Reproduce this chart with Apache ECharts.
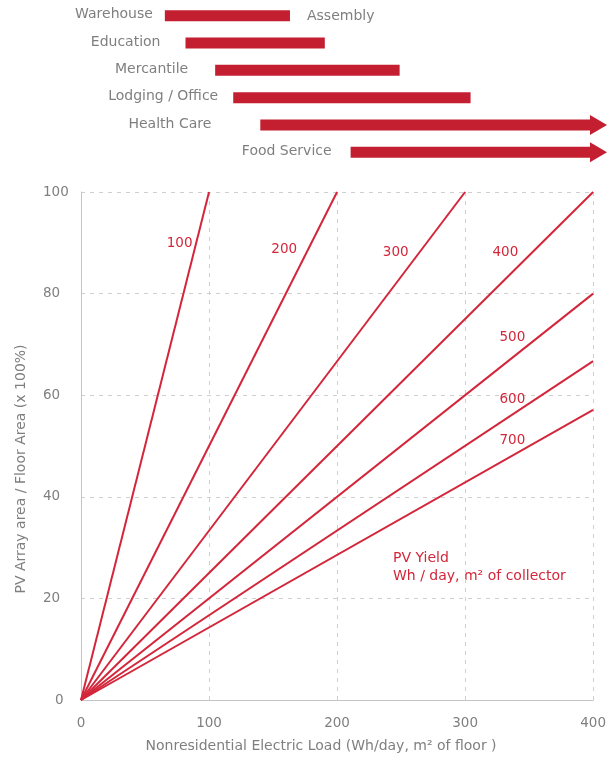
<!DOCTYPE html>
<html>
<head>
<meta charset="utf-8">
<script src="https://cdn.jsdelivr.net/npm/echarts@6/dist/echarts.min.js"></script>
<style>
  html, body { margin: 0; padding: 0; background: #fff; }
  #chart { width: 609px; height: 760px; }
</style>
</head>
<body>
<div id="chart"></div>
<script>
// Building types and their typical electric load ranges (Wh/day per m² of floor)
const buildingTypes = ['Warehouse', 'Education', 'Mercantile', 'Lodging / Office', 'Health Care', 'Food Service'];
const loadStart = [65, 81, 104, 118, 139, 209];
const loadEnd = [162, 189, 247, 302, 400, 400];
const openEnded = [false, false, false, false, true, true];
const sideNotes = ['Assembly', '', '', '', '', ''];

// PV yield lines: each runs from the origin to its end point
const pvYield = [100, 200, 300, 400, 500, 600, 700];
const lineEndLoad = [100, 200, 300, 400, 400, 400, 400];
const lineEndRatio = [100, 100, 100, 100, 80, 66.7, 57.1];

// Axis ticks
const loadTicks = [0, 100, 200, 300, 400];
const ratioTicks = [0, 20, 40, 60, 80, 100];

const RED = '#c41f30';
const LINE_RED = '#d3263a';
const GRAY = '#7f7f7f';
const FONT = 'DejaVu Sans';
// horizontal gap between each building label and its bar (px)
const labelGap = [12, 25, 27, 15, 49, 19];
// where each yield label sits: fraction along its line, then a pixel nudge
const yieldLabelAt = 0.895;
const yieldLabelNudge = [[-16, -2], [-26, 4], [-29, 7], [-34, 7], [-27, 1], [-27, 3], [-27, 0]];

const chart = echarts.init(document.getElementById('chart'), null, { renderer: 'canvas' });

const rangeData = buildingTypes.map((name, i) => [loadStart[i], loadEnd[i], i, openEnded[i] ? 1 : 0]);

const lineSeries = pvYield.map((y, i) => ({
  type: 'line',
  name: String(y),
  xAxisIndex: 1,
  yAxisIndex: 1,
  data: [[0, 0], [lineEndLoad[i], lineEndRatio[i]]],
  symbol: 'none',
  lineStyle: { color: LINE_RED, width: 2 },
  silent: true,
  z: 3,
  markPoint: {
    symbol: 'circle',
    symbolSize: 0,
    silent: true,
    data: [{
      coord: [lineEndLoad[i] * yieldLabelAt, lineEndRatio[i] * yieldLabelAt],
      label: {
        show: true,
        formatter: String(y),
        position: 'inside',
        offset: yieldLabelNudge[i],
        color: LINE_RED,
        fontFamily: FONT,
        fontSize: 13.5
      }
    }]
  }
}));

chart.setOption({
  backgroundColor: '#fff',
  animation: false,
  textStyle: { fontFamily: FONT },
  grid: [
    { left: 81, right: 12, top: 2, height: 164 },
    { left: 81, right: 12, top: 192, bottom: 60 }
  ],
  xAxis: [
    { gridIndex: 0, type: 'value', min: 0, max: 400, show: false },
    {
      gridIndex: 1, type: 'value', min: loadTicks[0], max: loadTicks[loadTicks.length - 1], interval: 100,
      name: 'Nonresidential Electric Load (Wh/day, m² of floor )',
      nameLocation: 'middle', nameGap: 39,
      nameTextStyle: { color: GRAY, fontSize: 14, fontFamily: FONT, padding: [0, 32, 0, 0] },
      axisLine: { show: true, lineStyle: { color: '#c4c4c4', width: 1 } },
      axisTick: { show: false },
      axisLabel: { color: GRAY, fontSize: 13.5, fontFamily: FONT, margin: 16 },
      splitLine: { show: true, lineStyle: { color: '#cfcfcf', type: [4, 5], width: 1 } }
    }
  ],
  yAxis: [
    { gridIndex: 0, type: 'category', data: buildingTypes, inverse: true, show: false },
    {
      gridIndex: 1, type: 'value', min: ratioTicks[0], max: ratioTicks[ratioTicks.length - 1], interval: 20,
      name: 'PV Array area / Floor Area (x 100%)',
      nameLocation: 'middle', nameGap: 53, nameRotate: 90,
      nameTextStyle: { color: GRAY, fontSize: 14, fontFamily: FONT, padding: [0, 46, 0, 0] },
      axisLine: { show: true, lineStyle: { color: '#c4c4c4', width: 1 } },
      axisTick: { show: false },
      axisLabel: {
        color: GRAY, fontSize: 13.5, fontFamily: FONT, margin: 38, align: 'left',
        formatter: v => (v === 0 ? '{z|0}' : String(v)),
        rich: { z: { color: GRAY, fontSize: 13.5, fontFamily: FONT, padding: [0, 0, 0, 12] } }
      },
      splitLine: { show: true, lineStyle: { color: '#cfcfcf', type: [4, 5], width: 1 } }
    }
  ],
  graphic: [{
    type: 'text',
    left: 393,
    top: 549,
    style: {
      text: 'PV Yield\nWh / day, m² of collector',
      fill: LINE_RED,
      font: '14px "DejaVu Sans"',
      lineHeight: 18
    }
  }],
  series: [
    {
      type: 'custom',
      xAxisIndex: 0,
      yAxisIndex: 0,
      data: rangeData,
      encode: { x: [0, 1], y: 2 },
      clip: false,
      silent: true,
      renderItem: function (params, api) {
        const idx = api.value(2);
        const p0 = api.coord([api.value(0), idx]);
        const p1 = api.coord([api.value(1), idx]);
        const open = api.value(3) === 1;
        const cy = p0[1];
        const h = 11;
        const children = [];
        if (open) {
          const base = p1[0] - 7;
          children.push({
            type: 'rect',
            shape: { x: p0[0], y: cy - h / 2, width: base - p0[0] + 1, height: h },
            style: { fill: RED }
          });
          children.push({
            type: 'polygon',
            shape: { points: [[base, cy - 10], [p1[0] + 10, cy], [base, cy + 10]] },
            style: { fill: RED }
          });
        } else {
          children.push({
            type: 'rect',
            shape: { x: p0[0], y: cy - h / 2, width: p1[0] - p0[0], height: h },
            style: { fill: RED }
          });
        }
        children.push({
          type: 'text',
          style: {
            text: buildingTypes[idx],
            x: p0[0] - labelGap[idx],
            y: cy - 1,
            align: 'right',
            verticalAlign: 'middle',
            fill: GRAY,
            font: '14px "DejaVu Sans"'
          }
        });
        if (sideNotes[idx]) {
          children.push({
            type: 'text',
            style: {
              text: sideNotes[idx],
              x: p1[0] + 17,
              y: cy + 1,
              align: 'left',
              verticalAlign: 'middle',
              fill: GRAY,
              font: '14px "DejaVu Sans"'
            }
          });
        }
        return { type: 'group', children: children };
      }
    }
  ].concat(lineSeries)
});
</script>
</body>
</html>
